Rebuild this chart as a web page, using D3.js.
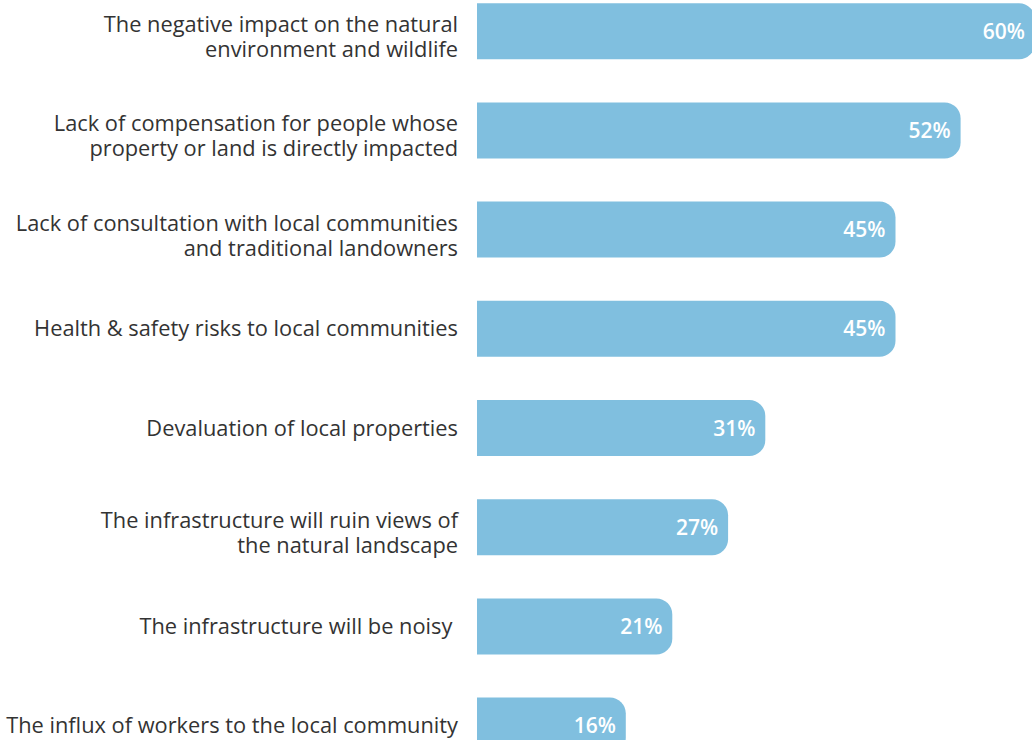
<!DOCTYPE html>
<html>
<head>
<meta charset="utf-8">
<script src="https://cdn.jsdelivr.net/npm/d3@7"></script>
<style>
  html, body { margin: 0; padding: 0; background: #ffffff; overflow: hidden; }
  svg { display: block; }
  text { font-family: "Open Sans", "Lato", sans-serif; }
</style>
</head>
<body>
<svg id="chart" width="1032" height="740"></svg>
<script>
// Concerns about infrastructure projects, share of respondents (%)
const categories = [
  ["The negative impact on the natural", "environment and wildlife"],
  ["Lack of compensation for people whose", "property or land is directly impacted"],
  ["Lack of consultation with local communities", "and traditional landowners"],
  ["Health & safety risks to local communities"],
  ["Devaluation of local properties"],
  ["The infrastructure will ruin views of", "the natural landscape"],
  ["The infrastructure will be noisy "],
  ["The influx of workers to the local community"]
];
const values = [60, 52, 45, 45, 31, 27, 21, 16];
const valueLabels = ["60%", "52%", "45%", "45%", "31%", "27%", "21%", "16%"];

const svg = d3.select("#chart");
const barColor = "#80bfdf";
const textColor = "#333333";
const radius = 16;

const ids = d3.range(categories.length);

const x = d3.scaleLinear().domain([0, 60]).range([477, 1035]);
const y = d3.scaleBand()
  .domain(ids)
  .range([3.2, 3.2 + 750.4])
  .paddingInner(0.4355)
  .paddingOuter(0);

// Bar with square left end and rounded right end
function barPath(x0, x1, y0, h, r) {
  const rr = Math.min(r, (x1 - x0), h / 2);
  return `M${x0},${y0}H${x1 - rr}A${rr},${rr} 0 0 1 ${x1},${y0 + rr}` +
         `V${y0 + h - rr}A${rr},${rr} 0 0 1 ${x1 - rr},${y0 + h}H${x0}Z`;
}

const rows = svg.selectAll("g.row")
  .data(ids)
  .join("g")
  .attr("class", "row");

rows.append("path")
  .attr("fill", barColor)
  .attr("d", i => barPath(x(0), x(values[i]), y(i), y.bandwidth(), radius));

rows.append("text")
  .attr("x", i => x(values[i]) - 10)
  .attr("y", i => y(i) + y.bandwidth() / 2 + 7.5)
  .attr("text-anchor", "end")
  .attr("fill", "#ffffff")
  .attr("font-size", 21)
  .attr("font-weight", 600)
  .text(i => valueLabels[i]);

// Category labels, right-aligned against the bars
const lineGap = 25;
rows.append("text")
  .attr("text-anchor", "end")
  .attr("fill", textColor)
  .attr("font-size", 21.8)
  .style("white-space", "pre")
  .each(function (i) {
    const lines = categories[i];
    const cy = y(i) + y.bandwidth() / 2;
    const firstBaseline = lines.length > 1 ? cy + 1 : cy + 7.5;
    d3.select(this).selectAll("tspan")
      .data(lines)
      .join("tspan")
      .attr("x", 458)
      .attr("y", (d, k) => firstBaseline + k * lineGap)
      .text(d => d);
  });
</script>
</body>
</html>
